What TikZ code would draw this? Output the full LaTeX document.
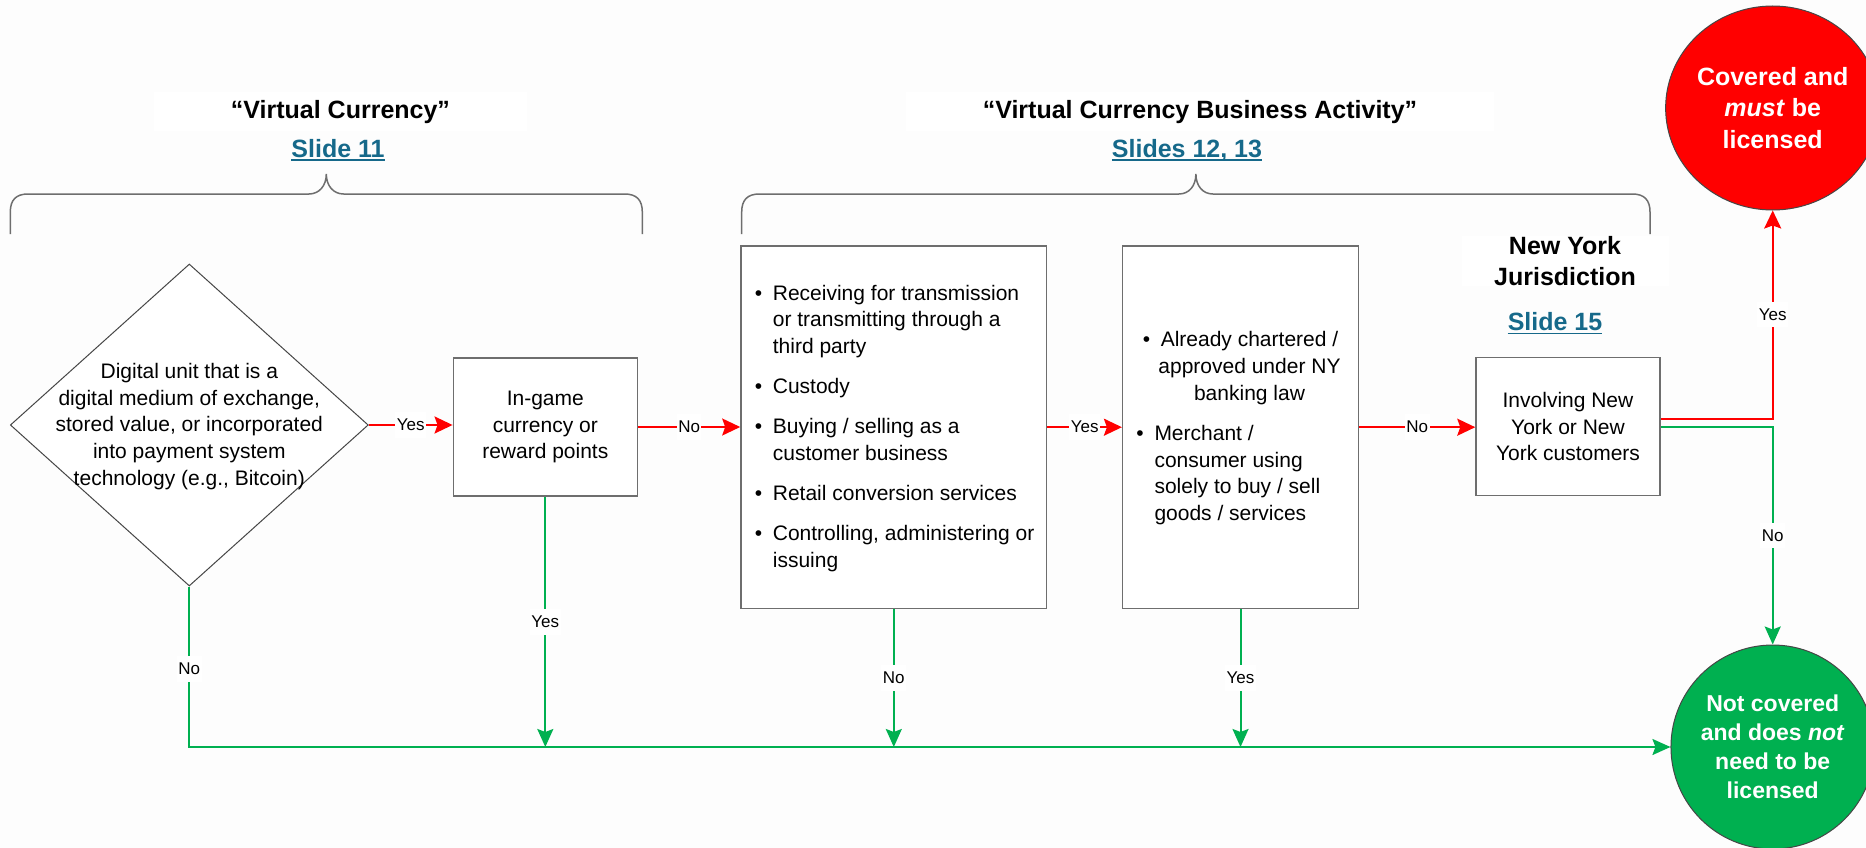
\documentclass[tikz,border=0pt]{standalone}
\usepackage{fontspec}
\setmainfont{Liberation Sans}
\usetikzlibrary{shapes.geometric,arrows.meta}
\definecolor{bg}{RGB}{253,253,253}
\definecolor{myred}{RGB}{255,0,0}
\definecolor{mygreen}{RGB}{0,176,80}
\definecolor{linkteal}{RGB}{22,105,138}
\definecolor{boxgray}{RGB}{110,110,110}
\definecolor{edgegray}{RGB}{70,70,70}
\begin{document}
\begin{tikzpicture}[x=1pt,y=-1pt,
  txt/.style={font=\fontsize{21}{26.7}\selectfont, align=center, inner sep=0pt},
  plaintxt/.style={font=\fontsize{21}{26.7}\selectfont, inner sep=0pt},
  lbl/.style={font=\fontsize{17}{20}\selectfont, fill=white, inner xsep=1.5pt, inner ysep=7pt},
  hdr/.style={font=\bfseries\fontsize{25}{31.7}\selectfont, align=center, inner sep=0pt},
  link/.style={font=\bfseries\fontsize{25}{30}\selectfont, text=linkteal, inner sep=0pt},
  ul/.style={draw=linkteal, line width=1.8pt},
  boxnode/.style={draw=boxgray, line width=1.5pt, fill=white, rectangle, inner sep=0pt},
  bracepath/.style={draw=boxgray, line width=1.5pt},
  redarr/.style={draw=myred, line width=2pt, -{Stealth[length=18pt,width=17pt,inset=3pt]}},
  greenarr/.style={draw=mygreen, line width=2pt, -{Stealth[length=18pt,width=16pt,inset=3pt]}},
  endnode/.style={ellipse, draw=edgegray, line width=1pt, minimum width=194pt, minimum height=204pt, inner sep=0pt, text=white, align=center},
]
\fill[bg] (0,0) rectangle (1866,848);
\useasboundingbox (0,0) rectangle (1866,848);

% headers
\node[hdr, fill=white, minimum width=373pt, minimum height=39pt] (vch) at (340.5,112) {“Virtual Currency”};
\node[link, anchor=base] (s11) at (338,157.3) {Slide 11};
\draw[ul] ([yshift=-2.7pt]s11.base west) -- ([yshift=-2.7pt]s11.base east);
\node[hdr, fill=white, minimum width=588pt, minimum height=39pt] (vcb) at (1200,112) {“Virtual Currency Business Activity”};
\node[link, anchor=base] (s1213) at (1187,157.3) {Slides 12, 13};
\draw[ul] ([yshift=-2.7pt]s1213.base west) -- ([yshift=-2.7pt]s1213.base east);
\node[hdr, fill=white, minimum width=207pt] (nyj) at (1565,261) {New York\\Jurisdiction};
\node[link, anchor=base] (s15) at (1555,330.7) {Slide 15};
\draw[ul] ([yshift=-2.7pt]s15.base west) -- ([yshift=-2.7pt]s15.base east);

% braces
\draw[bracepath] (10.3,234) -- (10.3,212) .. controls (10.3,200) and (16,194) .. (28,194) -- (309,194)
  .. controls (319,194) and (326.3,186) .. (326.3,174) .. controls (326.3,186) and (333.6,194) .. (343.6,194)
  -- (624.6,194) .. controls (636.6,194) and (642.3,200) .. (642.3,212) -- (642.3,234);
\draw[bracepath] (741.7,234) -- (741.7,212) .. controls (741.7,200) and (747.4,194) .. (759.4,194) -- (1178.9,194)
  .. controls (1188.9,194) and (1195.9,186) .. (1195.9,174) .. controls (1195.9,186) and (1202.9,194) .. (1212.9,194)
  -- (1632.3,194) .. controls (1644.3,194) and (1650,200) .. (1650,212) -- (1650,234);

% diamond
\node[diamond, draw=edgegray, line width=1pt, fill=white, minimum width=358pt, minimum height=322pt, inner sep=0pt] (dia) at (189.3,425) {};
\node[txt] (diat) at (189.3,426.5) {Digital unit that is a\\digital medium of exchange,\\stored value, or incorporated\\into payment system\\technology (e.g., Bitcoin)};

% boxes
\node[boxnode, txt, minimum width=184pt, minimum height=138pt] (igb) at (545.3,427) {In-game\\currency or\\reward points};
\node[boxnode, minimum width=305.7pt, minimum height=362.3pt] (b3) at (893.8,427.2) {};
\node[plaintxt, anchor=west] (b3t) at (754.6,428.3) {\begin{tabular}{@{}p{18.1pt}@{}l@{}}
\textbullet & Receiving for transmission\\
 & or transmitting through a\\
 & third party\\[13.3pt]
\textbullet & Custody\\[13.3pt]
\textbullet & Buying / selling as a\\
 & customer business\\[13.3pt]
\textbullet & Retail conversion services\\[13.3pt]
\textbullet & Controlling, administering or\\
 & issuing
\end{tabular}};
\node[boxnode, minimum width=235.7pt, minimum height=362.3pt] (b4) at (1240.5,427.2) {};
\node[txt] (b4a) at (1249.5,368) {\llap{\textbullet\hspace{10.7pt}}Already chartered /\\approved under NY\\banking law};
\node[txt, align=left, anchor=west] (b4b) at (1154.3,475) {\llap{\textbullet\hspace{10.7pt}}Merchant /\\consumer using\\solely to buy / sell\\goods / services};
\node[boxnode, txt, minimum width=184pt, minimum height=137.7pt] (ny) at (1568,426.5) {Involving New\\York or New\\York customers};

% outcomes
\node[endnode, fill=myred, font=\bfseries\fontsize{25}{31.7}\selectfont] (red) at (1772.7,108) {Covered and\\\textit{must} be\\licensed};
\node[endnode, fill=mygreen, font=\bfseries\fontsize{23}{29}\selectfont] (green) at (1772.7,747) {Not covered\\and does \textit{not}\\need to be\\licensed};

% red connectors
\draw[redarr] (dia.east) -- (dia.east -| igb.west) node[lbl, midway] {Yes};
\draw[redarr] (igb.east) -- (igb.east -| b3.west) node[lbl, midway] {No};
\draw[redarr] (b3.east) -- (b4.west) node[lbl, midway] {Yes};
\draw[redarr] (b4.east) -- (b4.east -| ny.west) node[lbl, midway] {No};
\draw[redarr] ([yshift=8pt]ny.east) -| (red.south) node[lbl, pos=0.75] {Yes};

% green connectors
\draw[greenarr] (ny.east) -| (green.north) node[lbl, pos=0.75] {No};
\draw[greenarr] (dia.south) |- (green.west) node[lbl, pos=0.256] {No};
\draw[greenarr] (igb.south) -- (igb.south |- green.west) node[lbl, midway] {Yes};
\draw[greenarr] (b3.south) -- (b3.south |- green.west) node[lbl, midway] {No};
\draw[greenarr] (b4.south) -- (b4.south |- green.west) node[lbl, midway] {Yes};
\end{tikzpicture}
\end{document}
